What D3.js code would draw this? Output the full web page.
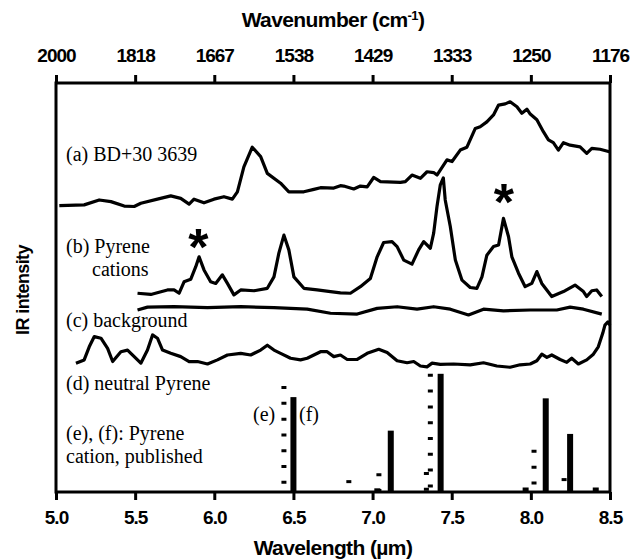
<!DOCTYPE html>
<html>
<head>
<meta charset="utf-8">
<script src="https://cdn.jsdelivr.net/npm/d3@7"></script>
<style>
  body { margin: 0; background: #fff; }
  .tick text { font-family: "Liberation Sans", Arial, sans-serif; font-weight: bold; font-size: 19px; letter-spacing: -1px; }
  .lbl { font-family: "Liberation Serif", "Times New Roman", serif; font-size: 20px; fill: #000; }
  .ttl { font-family: "Liberation Sans", Arial, sans-serif; font-weight: bold; font-size: 21px; letter-spacing: -0.6px; fill: #000; }
</style>
</head>
<body>
<script>
// wavelength (um) vs IR intensity (arbitrary units, spectra stacked with offsets)
var xTicks = [5.0, 5.5, 6.0, 6.5, 7.0, 7.5, 8.0, 8.5];

var specA = [[5.021,70.0],[5.178,70.2],[5.273,71.4],[5.347,71.0],[5.431,69.9],[5.494,69.8],[5.536,70.6],[5.641,71.6],
  [5.725,72.4],[5.788,71.8],[5.841,70.4],[5.872,71.6],[5.935,70.7],[5.998,71.6],[6.061,72.2],[6.114,71.6],[6.146,73.4],
  [6.187,79.5],[6.240,84.3],[6.293,82.0],[6.335,77.9],[6.419,75.5],[6.471,73.4],[6.566,73.4],[6.629,74.0],[6.671,74.4],
  [6.755,74.3],[6.797,74.9],[6.818,74.8],[6.881,74.1],[6.923,74.8],[6.966,74.6],[7.007,76.9],[7.050,75.9],[7.176,75.7],
  [7.207,75.9],[7.249,77.5],[7.302,76.7],[7.344,78.3],[7.386,78.1],[7.407,77.5],[7.470,81.2],[7.502,80.8],[7.554,83.6],
  [7.596,84.3],[7.649,88.9],[7.680,89.3],[7.722,90.5],[7.764,92.2],[7.796,94.6],[7.838,94.9],[7.869,95.4],[7.912,94.2],
  [7.943,92.6],[7.975,93.6],[7.996,92.4],[8.038,91.0],[8.079,88.1],[8.111,86.1],[8.142,85.4],[8.174,83.6],[8.206,85.4],
  [8.248,84.8],[8.311,84.4],[8.353,82.8],[8.385,84.0],[8.437,83.8],[8.496,83.2]];

var specB = [[5.515,48.6],[5.599,48.3],[5.704,49.4],[5.746,49.4],[5.778,48.6],[5.809,51.4],[5.851,52.0],[5.883,55.1],
  [5.904,57.5],[5.935,54.3],[5.977,51.4],[6.009,51.0],[6.051,53.1],[6.083,51.0],[6.124,48.2],[6.167,49.4],[6.251,49.2],
  [6.335,49.8],[6.377,52.6],[6.408,58.4],[6.440,62.8],[6.471,59.2],[6.503,52.6],[6.566,49.8],[6.650,49.4],[6.734,49.0],
  [6.797,48.7],[6.860,48.6],[6.923,50.2],[6.986,52.2],[7.029,57.5],[7.070,61.0],[7.123,61.2],[7.155,60.0],[7.197,56.7],
  [7.249,55.7],[7.291,59.2],[7.323,61.2],[7.365,59.6],[7.386,63.3],[7.407,69.8],[7.428,75.1],[7.447,76.8],[7.459,71.4],
  [7.491,64.9],[7.523,56.7],[7.565,51.8],[7.617,50.0],[7.659,49.8],[7.691,52.6],[7.722,57.9],[7.764,60.0],[7.796,60.4],
  [7.827,66.9],[7.859,62.4],[7.880,57.5],[7.922,53.5],[7.964,50.2],[8.006,51.0],[8.038,53.9],[8.069,51.0],[8.132,47.8],
  [8.206,49.0],[8.279,50.6],[8.332,49.0],[8.353,47.8],[8.385,49.2],[8.416,49.4],[8.448,47.8]];

var specC = [[5.515,44.5],[5.578,45.2],[5.746,45.3],[5.957,45.1],[6.167,45.3],[6.377,45.1],[6.587,44.7],[6.734,43.7],
  [6.903,43.5],[7.029,44.9],[7.155,45.3],[7.281,44.7],[7.386,45.3],[7.491,44.7],[7.606,43.3],[7.701,44.7],[7.827,44.3],
  [7.996,44.5],[8.164,44.5],[8.248,45.2],[8.332,44.7],[8.448,43.5]];

var specD = [[5.126,31.5],[5.178,32.3],[5.210,35.5],[5.242,38.0],[5.284,37.6],[5.326,35.1],[5.358,31.9],[5.410,34.3],
  [5.452,34.7],[5.494,33.1],[5.536,31.5],[5.578,34.7],[5.610,38.4],[5.641,37.6],[5.673,34.7],[5.725,33.9],[5.788,33.1],
  [5.841,31.9],[5.894,31.9],[5.957,31.3],[6.020,32.3],[6.083,33.5],[6.167,33.9],[6.230,33.5],[6.293,34.7],[6.335,35.9],
  [6.377,34.7],[6.419,33.9],[6.482,32.7],[6.545,32.3],[6.587,32.7],[6.629,33.5],[6.671,34.3],[6.713,34.3],[6.755,33.1],
  [6.797,33.5],[6.840,32.4],[6.903,32.4],[6.966,33.9],[7.039,34.9],[7.092,34.1],[7.155,32.1],[7.218,31.6],[7.260,31.9],
  [7.302,30.8],[7.344,30.6],[7.376,31.5],[7.428,31.2],[7.512,31.3],[7.617,31.1],[7.701,31.6],[7.785,30.8],[7.869,30.5],
  [7.932,31.1],[7.996,31.3],[8.038,32.1],[8.069,33.7],[8.101,32.9],[8.132,33.5],[8.185,32.4],[8.227,31.7],[8.258,32.7],
  [8.300,31.3],[8.353,32.3],[8.395,33.7],[8.426,35.5],[8.454,38.8],[8.468,40.8],[8.487,41.6],[8.500,40.8]];

// published line lists: (e) dashed, (f) solid
var linesE = [[6.44,25.9],[6.85,2.9],[7.04,4.6],[7.34,4.9],[7.365,28.9],[8.02,10.3],[8.21,3.4]];
var linesF = [[6.50,23.2],[7.03,0.9],[7.115,15.0],[7.43,28.9],[7.967,1.1],[8.094,22.9],[8.248,14.2],[8.41,1.1]];

// asterisk marks (centre) over the features attributed to the cation
var stars = [[5.90,62.8],[7.83,73.8]];

var W = 636, H = 560;
var mL = 56, mR = 610, mT = 83, mB = 492;

var svg = d3.select("body").append("svg").attr("width", W).attr("height", H);

var x = d3.scaleLinear().domain([5, 8.5]).range([mL, mR]);
var y = d3.scaleLinear().domain([0, 100]).range([mB, mT]);

var line = d3.line().x(function (d) { return x(d[0]); }).y(function (d) { return y(d[1]); });

// frame
svg.append("rect").attr("x", mL).attr("y", mT).attr("width", mR - mL).attr("height", mB - mT)
    .attr("fill", "none").attr("stroke", "#000").attr("stroke-width", 3);

// bottom axis
var gx = svg.append("g").attr("transform", "translate(0," + mB + ")")
    .call(d3.axisBottom(x).tickValues(xTicks).tickSize(8).tickSizeOuter(0).tickPadding(11).tickFormat(d3.format(".1f")));
// top axis in wavenumber
var gt = svg.append("g").attr("transform", "translate(0," + mT + ")")
    .call(d3.axisTop(x).tickValues(xTicks).tickSize(8).tickSizeOuter(0).tickPadding(13)
        .tickFormat(function (d) { return Math.round(1e4 / d); }));
[gx, gt].forEach(function (g) {
    g.select(".domain").remove();
    g.selectAll(".tick line").attr("stroke", "#000").attr("stroke-width", 3);
    g.selectAll(".tick text").attr("fill", "#000");
});

// spectra
[specA, specB, specC, specD].forEach(function (s) {
    svg.append("path").datum(s).attr("d", line).attr("fill", "none")
        .attr("stroke", "#000").attr("stroke-width", 3.2).attr("stroke-linejoin", "round");
});

// (f) solid bars
svg.selectAll(".barF").data(linesF).enter().append("rect").attr("class", "barF")
    .attr("x", function (d) { return x(d[0]) - 3; })
    .attr("y", function (d) { return y(d[1]); })
    .attr("width", 6)
    .attr("height", function (d) { return y(0) - y(d[1]); })
    .attr("fill", "#000");

// (e) dashed lines, dashes start at the top
svg.selectAll(".barE").data(linesE).enter().append("line").attr("class", "barE")
    .attr("x1", function (d) { return x(d[0]); })
    .attr("x2", function (d) { return x(d[0]); })
    .attr("y1", function (d) { return y(d[1]); })
    .attr("y2", y(0))
    .attr("stroke", "#000").attr("stroke-width", 5).attr("stroke-dasharray", "3,12.8");

// asterisks
svg.selectAll(".star").data(stars).enter().append("text").attr("class", "star")
    .attr("x", function (d) { return x(d[0]); })
    .attr("y", function (d) { return y(d[1]) + 30; })
    .attr("text-anchor", "middle")
    .style("font-family", "Liberation Sans, Arial, sans-serif").style("font-weight", "bold").style("font-size", "52px")
    .text("*");

// labels
var labels = [
    ["(a) BD+30 3639", 66, 161],
    ["(b) Pyrene", 66, 253],
    ["cations", 92, 276],
    ["(c) background", 66, 327],
    ["(d) neutral Pyrene", 66, 390],
    ["(e)", 253, 421],
    ["(f)", 299, 421],
    ["(e), (f): Pyrene", 66, 440],
    ["cation, published", 66, 463]
];
svg.selectAll(".lbl").data(labels).enter().append("text").attr("class", "lbl")
    .attr("x", function (d) { return d[1]; }).attr("y", function (d) { return d[2]; })
    .text(function (d) { return d[0]; });

// axis titles
var t1 = svg.append("text").attr("class", "ttl").attr("x", (mL + mR) / 2).attr("y", 27).attr("text-anchor", "middle");
t1.append("tspan").text("Wavenumber (cm");
t1.append("tspan").attr("dy", -7).style("font-size", "13px").text("-1");
t1.append("tspan").attr("dy", 7).text(")");

svg.append("text").attr("class", "ttl").attr("x", (mL + mR) / 2).attr("y", 555).attr("text-anchor", "middle")
    .text("Wavelength (\u00b5m)");

svg.append("text").attr("class", "ttl").style("font-size", "18px")
    .attr("transform", "translate(29,290) rotate(-90)").attr("text-anchor", "middle")
    .text("IR intensity");
</script>
</body>
</html>
